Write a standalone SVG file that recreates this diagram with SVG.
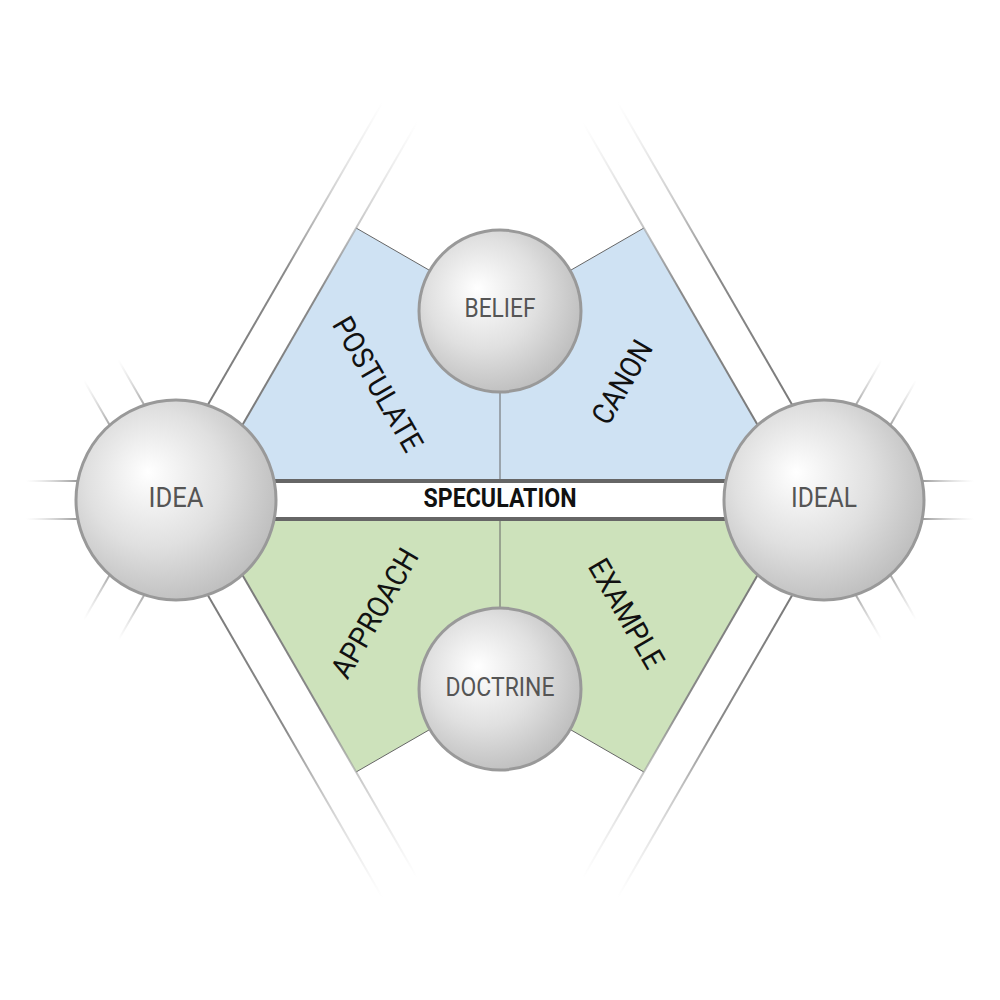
<svg xmlns="http://www.w3.org/2000/svg" width="1000" height="1000" viewBox="0 0 1000 1000">
  <defs>
    <radialGradient id="sphere" cx="0.42" cy="0.42" r="0.62" fx="0.36" fy="0.36">
      <stop offset="0" stop-color="#ffffff"/>
      <stop offset="0.55" stop-color="#e0e0e0"/>
      <stop offset="1" stop-color="#bdbdbd"/>
    </radialGradient>
    <!-- long band lines -->
    <linearGradient id="longUR" x1="0" y1="1" x2="1" y2="0">
      <stop offset="0" stop-color="#767676"/>
      <stop offset="0.5" stop-color="#8a8a8a"/>
      <stop offset="1" stop-color="#cccccc" stop-opacity="0"/>
    </linearGradient>
    <linearGradient id="longLR" href="#longUR" x1="0" y1="0" x2="1" y2="1"/>
    <linearGradient id="longUL" href="#longUR" x1="1" y1="1" x2="0" y2="0"/>
    <linearGradient id="longLL" href="#longUR" x1="1" y1="0" x2="0" y2="1"/>
    <!-- short stubs -->
    <linearGradient id="stubUR" x1="0" y1="1" x2="1" y2="0">
      <stop offset="0" stop-color="#a0a0a0"/>
      <stop offset="1" stop-color="#d0d0d0" stop-opacity="0"/>
    </linearGradient>
    <linearGradient id="stubLR" href="#stubUR" x1="0" y1="0" x2="1" y2="1"/>
    <linearGradient id="stubUL" href="#stubUR" x1="1" y1="1" x2="0" y2="0"/>
    <linearGradient id="stubLL" href="#stubUR" x1="1" y1="0" x2="0" y2="1"/>
    <linearGradient id="stubL" href="#stubUR" gradientUnits="userSpaceOnUse" x1="76" y1="0" x2="26" y2="0"/>
    <linearGradient id="stubR" href="#stubUR" gradientUnits="userSpaceOnUse" x1="924" y1="0" x2="974" y2="0"/>
    <style>
      .blue { fill: #cfe2f3; stroke: none; }
      .green { fill: #cde2bb; stroke: none; }
      .thin { stroke: #666666; stroke-width: 1; fill: none; }
      .band { stroke-width: 2; fill: none; }
      .stub { stroke-width: 2; fill: none; }
      .spec { stroke: #666666; stroke-width: 4; fill: none; }
      .node { fill: url(#sphere); stroke: #999999; stroke-width: 3; }
      .nlabel { font-family: Roboto, "Liberation Sans", sans-serif; fill: #555555; text-anchor: middle; }
      .seg { font-family: Roboto, "Liberation Sans", sans-serif; font-size: 30px; fill: #111111; text-anchor: middle; }
      .title { font-family: Roboto, "Liberation Sans", sans-serif; font-weight: bold; font-size: 26px; fill: #111111; text-anchor: middle; }
    </style>
  </defs>

  <rect x="0" y="0" width="1000" height="1000" fill="#ffffff"/>

  <!-- regions -->
  <g id="region-upper">
    <polygon class="blue" points="356.1,228 500,311 643.9,228 790,481 210,481"/>
  </g>
  <g id="region-lower">
    <polygon class="green" points="356.1,772 500,689 643.9,772 790,519 210,519"/>
  </g>

  <!-- connectors -->
  <g id="connectors">
    <!-- region dividers -->
    <polyline class="thin" points="356.1,228 500,311 643.9,228"/>
    <polyline class="thin" points="356.1,772 500,689 643.9,772"/>
    <line class="thin" x1="500" y1="311" x2="500" y2="481" stroke="#777777"/>
    <line class="thin" x1="500" y1="519" x2="500" y2="689" stroke="#777777"/>

    <!-- long bands -->
    <line class="band" stroke="url(#longUR)" x1="188.68" y1="438.04" x2="382.68" y2="102.03"/>
    <line class="band" stroke="url(#longUR)" x1="223.32" y1="458.04" x2="417.32" y2="122.03"/>
    <line class="band" stroke="url(#longLR)" x1="188.68" y1="561.96" x2="382.68" y2="897.97"/>
    <line class="band" stroke="url(#longLR)" x1="223.32" y1="541.96" x2="417.32" y2="877.97"/>
    <line class="band" stroke="url(#longUL)" x1="811.32" y1="438.04" x2="617.32" y2="102.03"/>
    <line class="band" stroke="url(#longUL)" x1="776.68" y1="458.04" x2="582.68" y2="122.03"/>
    <line class="band" stroke="url(#longLL)" x1="811.32" y1="561.96" x2="617.32" y2="897.97"/>
    <line class="band" stroke="url(#longLL)" x1="776.68" y1="541.96" x2="582.68" y2="877.97"/>

    <!-- speculation band -->
    <line class="spec" x1="220" y1="481" x2="780" y2="481"/>
    <line class="spec" x1="220" y1="519" x2="780" y2="519"/>

    <!-- IDEA stubs -->
    <line class="stub" stroke="url(#stubL)" x1="81" y1="481" x2="26" y2="481"/>
    <line class="stub" stroke="url(#stubL)" x1="81" y1="519" x2="26" y2="519"/>
    <line class="stub" stroke="url(#stubUL)" x1="145.8" y1="407.7" x2="118.3" y2="360.1"/>
    <line class="stub" stroke="url(#stubUL)" x1="111.2" y1="427.7" x2="83.7" y2="380.1"/>
    <line class="stub" stroke="url(#stubLL)" x1="145.8" y1="592.3" x2="118.3" y2="639.9"/>
    <line class="stub" stroke="url(#stubLL)" x1="111.2" y1="572.3" x2="83.7" y2="619.9"/>

    <!-- IDEAL stubs -->
    <line class="stub" stroke="url(#stubR)" x1="919" y1="481" x2="974" y2="481"/>
    <line class="stub" stroke="url(#stubR)" x1="919" y1="519" x2="974" y2="519"/>
    <line class="stub" stroke="url(#stubUR)" x1="854.2" y1="407.7" x2="881.7" y2="360.1"/>
    <line class="stub" stroke="url(#stubUR)" x1="888.8" y1="427.7" x2="916.3" y2="380.1"/>
    <line class="stub" stroke="url(#stubLR)" x1="854.2" y1="592.3" x2="881.7" y2="639.9"/>
    <line class="stub" stroke="url(#stubLR)" x1="888.8" y1="572.3" x2="916.3" y2="619.9"/>
  </g>

  <!-- segment labels -->
  <g id="labels">
    <text class="title" x="500" y="507" textLength="153" lengthAdjust="spacingAndGlyphs">SPECULATION</text>
    <text class="seg" transform="translate(378,384) rotate(60)" x="0" y="10.5" textLength="150" lengthAdjust="spacingAndGlyphs">POSTULATE</text>
    <text class="seg" transform="translate(622,382) rotate(-60)" x="0" y="10.5" textLength="91" lengthAdjust="spacingAndGlyphs">CANON</text>
    <text class="seg" transform="translate(374.5,613) rotate(-60)" x="0" y="10.5" textLength="144" lengthAdjust="spacingAndGlyphs">APPROACH</text>
    <text class="seg" transform="translate(626.5,613.5) rotate(60)" x="0" y="10.5" textLength="121" lengthAdjust="spacingAndGlyphs">EXAMPLE</text>
  </g>

  <!-- nodes -->
  <g id="node-idea">
    <circle class="node" cx="176" cy="500" r="100"/>
    <text class="nlabel" x="176" y="507" font-size="28" textLength="55" lengthAdjust="spacingAndGlyphs">IDEA</text>
  </g>
  <g id="node-ideal">
    <circle class="node" cx="824" cy="500" r="100"/>
    <text class="nlabel" x="824" y="507" font-size="28" textLength="66" lengthAdjust="spacingAndGlyphs">IDEAL</text>
  </g>
  <g id="node-belief">
    <circle class="node" cx="500" cy="311" r="81"/>
    <text class="nlabel" x="500" y="317" font-size="25" textLength="71" lengthAdjust="spacingAndGlyphs">BELIEF</text>
  </g>
  <g id="node-doctrine">
    <circle class="node" cx="500" cy="689" r="81"/>
    <text class="nlabel" x="500" y="696" font-size="25" textLength="109" lengthAdjust="spacingAndGlyphs">DOCTRINE</text>
  </g>
</svg>
